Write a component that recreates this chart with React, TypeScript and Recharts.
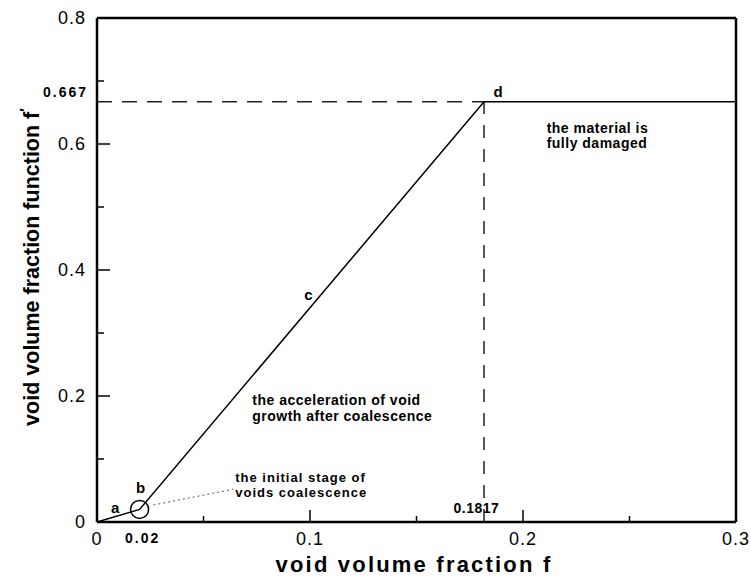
import { LineChart, Line, XAxis, YAxis, ReferenceLine, ReferenceDot, Label } from 'recharts';

// piecewise f* (f) relation
const fValues = [0, 0.02, 0.1817, 0.3];
const fStarValues = [0, 0.02, 0.667, 0.667];

const xTicks = [0, 0.02, 0.05, 0.1, 0.15, 0.2, 0.25, 0.3];
const xMajor = [0, 0.1, 0.2, 0.3];
const yTicks = [0, 0.1, 0.2, 0.3, 0.4, 0.5, 0.6, 0.667, 0.7, 0.8];
const yMajor = [0, 0.2, 0.4, 0.6, 0.8];

const fCrit = 0.02;
const fFail = 0.1817;
const fuStar = 0.667;

// annotation text, anchored at data coords (start of first baseline)
const notes = [
  { x: 0.0066, y: 0.0143, lines: ['a'], size: 15, gap: 0, ls: 0.5 },
  { x: 0.0183, y: 0.046, lines: ['b'], size: 15, gap: 0, ls: 0.5 },
  { x: 0.0973, y: 0.352, lines: ['c'], size: 15, gap: 0, ls: 0.5 },
  { x: 0.1862, y: 0.6746, lines: ['d'], size: 15, gap: 0, ls: 0.5 },
  { x: 0.1674, y: 0.0143, lines: ['0.1817'], size: 14, gap: 0, ls: 0.5 },
  { x: 0.2111, y: 0.6175, lines: ['the material is', 'fully damaged'], size: 14, gap: 15, ls: 0.5 },
  { x: 0.0729, y: 0.1857, lines: ['the acceleration of void', 'growth after coalescence'], size: 14, gap: 16, ls: 0.5 },
  { x: 0.0649, y: 0.0635, lines: ['the initial stage of', 'voids coalescence'], size: 13, gap: 15, ls: 1 },
];

const leader = [{ x: 0.0265, y: 0.027 }, { x: 0.064, y: 0.052 }];

const data = fValues.map((f, i) => ({ f, v: fStarValues[i] }));

const FONT = '"Liberation Sans", Arial, sans-serif';

const XTick = ({ x, y, payload }: any) => {
  const v = payload.value;
  if (v === fCrit) {
    return (
      <text x={x + 3} y={y + 21} textAnchor="middle" fontSize={14} fontWeight="bold" letterSpacing={2} fontFamily={FONT} fill="#000">
        0.02
      </text>
    );
  }
  const major = xMajor.includes(v);
  return (
    <g>
      <line x1={x} x2={x} y1={y} y2={y - (major ? 12 : 6)} stroke="#000" strokeWidth={1.5} />
      {major && (
        <text x={x} y={y + 23} textAnchor="middle" fontSize={18} letterSpacing={1} fontFamily={FONT} fill="#000">
          {String(v)}
        </text>
      )}
    </g>
  );
};

const YTick = ({ x, y, payload }: any) => {
  const v = payload.value;
  if (v === fuStar) {
    return (
      <text x={x - 9} y={y - 5} textAnchor="end" fontSize={14} fontWeight="bold" letterSpacing={2} fontFamily={FONT} fill="#000">
        0.667
      </text>
    );
  }
  const major = yMajor.includes(v);
  return (
    <g>
      <line x1={x} x2={x + (major ? 13 : 7)} y1={y} y2={y} stroke="#000" strokeWidth={1.5} />
      {major && (
        <text x={x - 11} y={y} dy="0.35em" textAnchor="end" fontSize={18} letterSpacing={1} fontFamily={FONT} fill="#000">
          {String(v)}
        </text>
      )}
    </g>
  );
};

const Note = ({ viewBox, lines, size, gap, ls }: any) => {
  if (!viewBox) return null;
  return (
    <text x={viewBox.x} y={viewBox.y} fontSize={size} fontWeight="bold" letterSpacing={ls} fontFamily={FONT} fill="#000">
      {lines.map((t: string, i: number) => (
        <tspan key={i} x={viewBox.x} dy={i === 0 ? 0 : gap}>
          {t}
        </tspan>
      ))}
    </text>
  );
};

const App = () => {
  return (
    <div style={{ position: 'absolute', left: 0, top: 0, width: 751, height: 577, background: '#fff' }}>
      <LineChart width={751} height={577} data={data} margin={{ top: 18, right: 15, bottom: 0, left: 0 }}>
        <XAxis
          type="number"
          dataKey="f"
          domain={[0, 0.3]}
          ticks={xTicks}
          interval={0}
          height={55}
          tickSize={0}
          tickMargin={0}
          tickLine={false}
          axisLine={{ stroke: '#000', strokeWidth: 2.5 }}
          tick={<XTick />}
        >
          <Label
            content={() => (
              <text x={414} y={572} textAnchor="middle" fontSize={22} fontWeight="bold" letterSpacing={2.2} fontFamily={FONT} fill="#000">
                void volume fraction f
              </text>
            )}
          />
        </XAxis>
        <YAxis
          type="number"
          domain={[0, 0.8]}
          ticks={yTicks}
          interval={0}
          width={97}
          tickSize={0}
          tickMargin={0}
          tickLine={false}
          axisLine={{ stroke: '#000', strokeWidth: 2.5 }}
          tick={<YTick />}
        >
          <Label
            content={() => (
              <text
                x={39}
                y={267}
                transform="rotate(-90, 39, 267)"
                textAnchor="middle"
                fontSize={21.5}
                fontWeight="bold"
                fontFamily={FONT}
                fill="#000"
              >
                void volume fraction function f
                <tspan dy={-9} fontSize={15}>′</tspan>
              </text>
            )}
          />
        </YAxis>

        {/* frame */}
        <ReferenceLine y={0.8} stroke="#000" strokeWidth={2.5} />
        <ReferenceLine x={0.3} stroke="#000" strokeWidth={2.5} />

        {/* dashed guides to point d */}
        <ReferenceLine segment={[{ x: 0, y: fuStar }, { x: fFail, y: fuStar }]} stroke="#222" strokeWidth={1.5} strokeDasharray="15 10" />
        <ReferenceLine segment={[{ x: fFail, y: 0 }, { x: fFail, y: fuStar }]} stroke="#222" strokeWidth={1.5} strokeDasharray="13 11" />

        {/* leader from circle to note */}
        <ReferenceLine segment={leader} stroke="#555" strokeWidth={1} strokeDasharray="2 3" />

        <Line type="linear" dataKey="v" stroke="#000" strokeWidth={1.5} dot={false} isAnimationActive={false} />

        <ReferenceDot x={fCrit} y={fStarValues[1]} r={9} fill="none" stroke="#000" strokeWidth={1.5} />

        {notes.map((n, i) => (
          <ReferenceDot
            key={i}
            x={n.x}
            y={n.y}
            r={0}
            fill="none"
            stroke="none"
            label={<Note lines={n.lines} size={n.size} gap={n.gap} ls={n.ls} />}
          />
        ))}
      </LineChart>
    </div>
  );
};

export default App;
